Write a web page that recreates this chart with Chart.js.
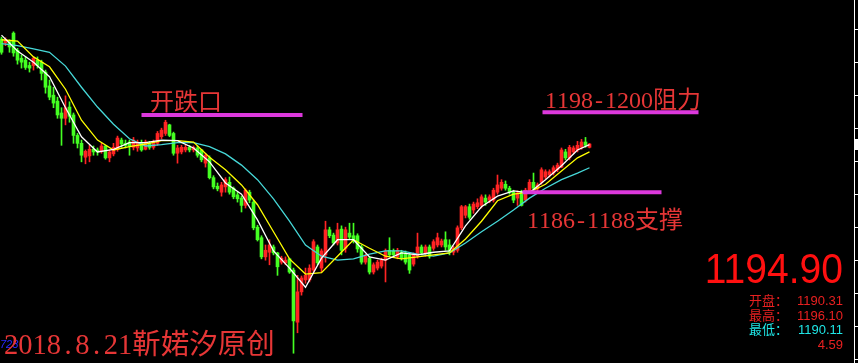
<!DOCTYPE html>
<html><head><meta charset="utf-8">
<script src="https://cdn.jsdelivr.net/npm/chart.js@4.4.1/dist/chart.umd.min.js"></script>
<style>html,body{margin:0;padding:0;background:#000;overflow:hidden}canvas{display:block}</style>
</head><body>
<canvas id="c" width="858" height="363"></canvas>
<script>
// ---- candle data (hourly bars) ----
const opens = [1210.8,1210.2,1210.4,1211.7,1209.1,1207.9,1207.6,1206.8,1206.8,1207.6,
1207.3,1205.8,1203.7,1202.3,1201.4,1199.6,1198.8,1200.5,1199.3,1196.2,
1195.0,1192.9,1193.1,1194.1,1194.0,1193.8,1194.6,1192.8,1193.4,1194.1,
1195.5,1195.0,1195.2,1194.4,1194.3,1195.0,1194.1,1195.0,1194.4,1195.0,
1196.0,1196.5,1197.8,1196.5,1193.5,1193.7,1194.0,1194.4,1194.0,1194.3,
1194.0,1192.0,1192.8,1189.8,1188.5,1187.6,1188.4,1189.1,1188.2,1187.2,
1186.7,1185.6,1187.6,1186.1,1182.3,1180.7,1177.8,1178.5,1179.3,1178.4,
1177.0,1176.9,1177.5,1175.8,1167.9,1172.5,1174.3,1174.3,1175.8,1179.3,
1176.1,1178.1,1181.9,1181.1,1179.9,1182.0,1179.1,1181.4,1181.0,1181.0,
1179.3,1177.0,1177.6,1175.5,1176.1,1176.4,1177.3,1178.8,1178.7,1177.8,
1178.5,1178.4,1178.1,1176.7,1177.9,1179.3,1178.4,1179.3,1179.1,1179.6,
1179.6,1180.4,1179.6,1178.5,1178.8,1182.2,1184.1,1185.4,1184.9,1185.4,
1185.6,1186.7,1186.4,1186.4,1187.6,1188.2,1188.8,1188.2,1187.6,1186.7,
1187.6,1186.4,1187.6,1189.1,1188.1,1189.1,1189.9,1190.2,1190.5,1191.0,
1191.4,1193.7,1192.8,1193.7,1194.0,1194.4,1195.2,1194.4];
const highs = [1211.1,1211.0,1210.7,1211.9,1209.4,1208.4,1208.1,1207.3,1208.1,1208.1,
1207.6,1206.1,1204.6,1203.5,1202.0,1200.4,1202.2,1201.3,1199.6,1196.5,
1195.5,1194.0,1194.7,1194.6,1194.3,1195.0,1194.7,1194.0,1195.0,1196.1,
1195.8,1195.5,1195.5,1195.9,1195.5,1195.5,1195.5,1195.3,1195.5,1196.8,
1197.3,1198.5,1197.9,1196.7,1194.7,1194.7,1194.7,1194.7,1194.6,1194.6,
1194.1,1193.5,1193.1,1190.1,1189.0,1189.1,1189.8,1189.9,1188.4,1187.6,
1187.0,1188.1,1187.9,1186.4,1182.6,1181.0,1179.6,1180.4,1179.6,1178.5,
1177.9,1177.8,1177.6,1176.1,1175.0,1174.9,1176.1,1176.6,1180.4,1179.6,
1179.0,1183.2,1182.3,1181.4,1182.9,1182.5,1182.3,1182.9,1182.9,1181.3,
1179.6,1178.2,1177.9,1176.9,1177.3,1177.6,1179.0,1180.7,1179.0,1179.1,
1178.8,1178.7,1178.4,1178.4,1181.4,1179.6,1179.6,1179.6,1180.4,1181.4,
1180.5,1181.6,1180.4,1179.4,1182.5,1185.6,1185.6,1185.8,1186.1,1186.6,
1187.2,1187.2,1187.2,1188.2,1190.2,1189.5,1189.3,1188.5,1187.9,1187.8,
1187.9,1188.2,1189.5,1190.5,1189.0,1191.3,1191.0,1191.0,1191.6,1192.0,
1194.3,1194.1,1194.7,1194.6,1195.3,1195.6,1195.9,1195.0];
const lows = [1208.5,1209.8,1208.8,1208.2,1207.0,1206.4,1206.2,1205.8,1206.1,1206.4,
1204.6,1202.6,1201.6,1200.4,1198.8,1194.7,1197.8,1198.2,1195.0,1194.3,
1192.2,1191.9,1192.2,1193.2,1193.2,1193.5,1192.6,1192.2,1193.1,1193.8,
1194.4,1194.3,1193.2,1194.0,1193.8,1193.8,1194.0,1194.1,1194.1,1194.7,
1195.7,1196.2,1196.0,1193.2,1192.0,1193.4,1193.7,1193.7,1193.7,1192.9,
1192.2,1191.4,1189.6,1188.1,1187.8,1187.0,1187.6,1187.3,1186.6,1186.1,
1184.6,1185.2,1186.0,1181.9,1180.2,1177.5,1177.3,1176.6,1178.1,1175.0,
1176.7,1176.6,1175.3,1163.2,1166.3,1172.0,1173.8,1174.0,1175.5,1176.6,
1175.5,1177.0,1180.7,1179.6,1179.6,1178.1,1178.5,1180.5,1179.9,1178.5,
1176.7,1176.7,1175.2,1175.2,1175.8,1176.1,1174.0,1177.8,1177.8,1177.5,
1177.3,1176.7,1175.3,1176.4,1177.6,1178.1,1177.9,1177.6,1178.8,1179.3,
1179.3,1178.8,1178.1,1178.1,1178.5,1181.9,1183.7,1183.5,1184.4,1185.1,
1185.2,1185.6,1186.0,1186.1,1187.3,1187.9,1187.9,1187.3,1186.0,1185.6,
1185.5,1186.1,1187.5,1187.9,1187.8,1188.8,1189.6,1189.9,1190.2,1190.7,
1191.3,1192.5,1192.5,1193.4,1193.7,1194.1,1194.4,1194.3];
const closes = [1208.8,1210.7,1209.6,1208.7,1207.6,1207.3,1206.5,1206.4,1207.9,1206.8,
1205.6,1203.5,1202.0,1201.1,1199.3,1198.8,1200.4,1199.1,1196.2,1195.0,
1193.2,1193.8,1194.1,1193.7,1193.7,1194.6,1192.8,1193.7,1194.4,1195.8,
1194.9,1194.7,1194.6,1195.5,1195.2,1194.0,1195.2,1194.4,1195.2,1196.5,
1197.0,1198.2,1196.2,1193.5,1194.3,1194.4,1194.4,1194.0,1194.4,1193.2,
1192.5,1193.2,1189.8,1188.4,1188.1,1188.7,1189.5,1187.6,1186.9,1186.6,
1185.6,1187.9,1186.4,1182.2,1180.4,1177.8,1178.8,1179.6,1178.4,1176.3,
1177.6,1177.3,1175.5,1168.1,1172.5,1174.6,1175.0,1176.1,1180.1,1176.9,
1178.7,1181.9,1181.0,1179.9,1181.9,1178.8,1181.9,1180.8,1180.2,1179.0,
1177.0,1177.9,1175.5,1176.6,1177.0,1177.3,1178.7,1178.1,1178.1,1178.8,
1177.6,1177.0,1175.8,1178.1,1179.3,1178.4,1179.3,1177.9,1180.1,1180.7,
1180.2,1179.3,1178.5,1179.1,1182.2,1185.4,1185.4,1183.8,1185.8,1186.0,
1186.9,1186.1,1186.9,1187.9,1188.7,1189.1,1188.2,1187.6,1186.4,1187.5,
1185.6,1187.9,1189.1,1188.2,1188.7,1191.0,1190.7,1190.7,1191.3,1191.7,
1194.0,1192.8,1194.4,1194.3,1194.7,1195.2,1194.7,1194.9];

// ---- moving averages, read at every 4th bar ----
const maIndex = [0,4,8,12,16,20,24,28,32,36,40,44,48,52,56,60,64,68,72,76,80,84,88,92,96,100,104,108,112,116,120,124,128,132,136,140,144,147];
const ma5  = [1211.4,1209.0,1207.3,1205.1,1200.4,1196.0,1193.7,1194.1,1195.1,1195.1,1195.5,1195.4,1194.3,1192.2,1189.0,1187.3,1183.4,1178.7,1176.1,1173.2,1177.6,1180.4,1180.4,1177.8,1177.3,1178.4,1178.1,1178.5,1178.7,1182.5,1185.4,1187.0,1187.8,1187.5,1189.5,1191.6,1194.0,1194.8];
const ma10 = [1210.7,1210.5,1208.1,1206.6,1203.2,1198.5,1195.5,1194.0,1194.5,1194.9,1195.4,1195.4,1195.2,1192.9,1191.0,1188.7,1185.7,1181.6,1177.5,1175.2,1175.4,1177.9,1180.4,1179.1,1177.9,1177.5,1177.8,1178.1,1178.4,1180.5,1183.2,1186.3,1187.3,1187.6,1188.8,1190.8,1192.8,1193.7];
const ma20 = [1210.1,1209.8,1209.3,1208.8,1206.7,1203.5,1200.5,1197.9,1195.7,1194.6,1194.8,1195.1,1195.1,1194.5,1193.4,1191.7,1189.5,1186.6,1183.2,1179.6,1177.9,1177.3,1177.5,1178.2,1178.7,1178.7,1178.2,1177.9,1178.4,1179.9,1181.6,1183.2,1184.9,1186.7,1188.2,1189.5,1190.5,1191.3];

// ---- price axis tick values ----
const tickValues = [1162.3,1167.3,1172.3,1177.3,1182.3,1187.3,1192.3,1197.3,1202.3,1207.3,1212.3];

// ---- hand-drawn levels: [fromBar, toBar, price] ----
const gapLevel = [35, 75.25, 1199.3];
const resistLevel = [135.25, 174.25, 1199.7];
const supportLevel = [130.25, 165, 1187.6];

// ---- texts ----
const gapText = '开跌口';
const resistText = '1198-1200阻力';
const supportText = '1186-1188支撑';
const signText = '2018.8.21靳婼汐原创';
const lastPriceText = '1194.90';
const infoLabels = ['开盘：', '最高：', '最低：', ''];
const infoValues = ['1190.31', '1196.10', '1190.11', '4.59'];
const cornerText = '723';

const UP = '#ff2424', DOWN = '#44ff22';
const candleColor = opens.map((o, i) => closes[i] >= o ? UP : DOWN);

const levelDs = (lv) => ({
  type: 'line', data: [{x: lv[0], y: lv[2]}, {x: lv[1], y: lv[2]}],
  borderColor: '#dc38dc', borderWidth: 4, pointRadius: 0, order: 0
});
const maDs = (arr, color) => ({
  type: 'line', data: maIndex.map((ix, k) => ({x: ix, y: arr[k]})),
  borderColor: color, borderWidth: 1.3, pointRadius: 0, tension: 0, order: 1
});

function drawCells(ctx, text, x, baseline, size, color) {
  ctx.fillStyle = color; ctx.textBaseline = 'alphabetic'; ctx.textAlign = 'center';
  let cx = x;
  for (const ch of text) {
    const wide = ch.charCodeAt(0) > 0x2e80;
    const w = wide ? size : size / 2;
    ctx.font = wide ? `${size}px "Noto Sans CJK SC"` : `${size}px "Liberation Serif"`;
    ctx.fillText(ch, cx + w / 2, baseline);
    cx += w;
  }
}

const overlay = {
  id: 'overlay',
  beforeDraw(chart) {
    const ctx = chart.ctx;
    ctx.save(); ctx.fillStyle = '#000'; ctx.fillRect(0, 0, chart.width, chart.height); ctx.restore();
  },
  afterDraw(chart) {
    const ctx = chart.ctx, ys = chart.scales.y;
    ctx.save();
    const red = '#e63636';
    drawCells(ctx, gapText, 150, 110, 24, red);
    drawCells(ctx, resistText, 545, 108, 24, red);
    drawCells(ctx, supportText, 527, 228, 24, red);
    ctx.font = 'italic 11px "Liberation Sans"'; ctx.fillStyle = '#2a2aff';
    ctx.textAlign = 'left'; ctx.textBaseline = 'alphabetic';
    ctx.fillText(cornerText, 0, 348);
    drawCells(ctx, signText, 4, 354, 28.5, red);
    // last price
    ctx.save();
    ctx.translate(843, 283); ctx.scale(0.93, 1);
    ctx.font = '42px "Liberation Sans"'; ctx.fillStyle = '#ff1010'; ctx.textAlign = 'right';
    ctx.fillText(lastPriceText, 0, 0);
    ctx.restore();
    const colors = ['#e82020', '#e82020', '#1fe6e6', '#e82020'];
    for (let k = 0; k < 4; k++) {
      const by = 305 + k * 14.7;
      ctx.fillStyle = colors[k];
      ctx.textAlign = 'left';
      ctx.font = '13px "Noto Sans CJK SC"';
      if (infoLabels[k]) ctx.fillText(infoLabels[k], 749, by);
      ctx.textAlign = 'right';
      ctx.font = '13px "Liberation Sans"';
      ctx.fillText(infoValues[k], 843, by);
    }
    // current price marker on the axis
    const py = ys.getPixelForValue(closes[closes.length - 1]);
    ctx.fillStyle = '#ffffff';
    ctx.fillRect(855, Math.round(py) - 5, 3, 11);
    ctx.restore();
  }
};

new Chart(document.getElementById('c'), {
  type: 'bar',
  data: {
    datasets: [
      levelDs(gapLevel), levelDs(resistLevel), levelDs(supportLevel),
      maDs(ma5, '#ffffff'), maDs(ma10, '#ffff00'), maDs(ma20, '#46d8d8'),
      { type: 'bar', data: opens.map((o, i) => ({x: i, y: [o, closes[i]]})),
        backgroundColor: candleColor, barThickness: 3, minBarLength: 1, grouped: false, order: 2 },
      { type: 'bar', data: opens.map((o, i) => ({x: i, y: [lows[i], highs[i]]})),
        backgroundColor: candleColor, barThickness: 1, grouped: false, order: 3 }
    ]
  },
  options: {
    responsive: false, animation: false, events: [],
    layout: { padding: 0 },
    plugins: { legend: { display: false }, tooltip: { enabled: false } },
    scales: {
      x: { type: 'linear', display: false, offset: false, min: -0.375, max: 213.125 },
      y: {
        type: 'linear', position: 'right', min: 1161.72, max: 1216.72,
        afterBuildTicks: (s) => { s.ticks = tickValues.map(v => ({ value: v })); },
        ticks: { display: false },
        grid: { display: true, drawOnChartArea: false, drawTicks: true, tickLength: 4, color: '#ffffff', lineWidth: 1 },
        border: { display: true, color: '#ffffff', width: 1 }
      }
    }
  },
  plugins: [overlay]
});
</script>
</body></html>
